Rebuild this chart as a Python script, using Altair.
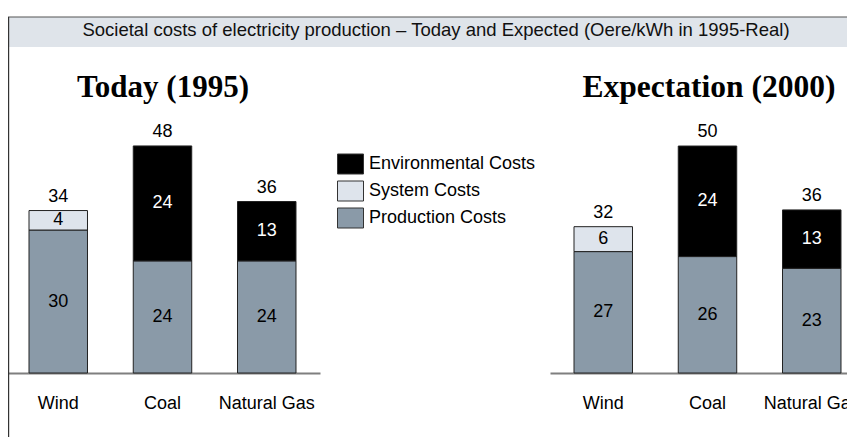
import altair as alt
import pandas as pd

# ---------------- data ----------------
categories = ["Wind", "Coal", "Natural Gas"]
cost_types = ["Environmental Costs", "System Costs", "Production Costs"]
cost_colors = ["#000000", "#dee4ec", "#8a9aa8"]

# Today (1995) – bar heights, labels as printed
today_production = [30.1, 23.6, 23.6]
today_system = [4.1, 0.0, 0.0]
today_environment = [0.0, 24.2, 12.5]
today_production_labels = ["30", "24", "24"]
today_system_labels = ["4", "", ""]
today_environment_labels = ["", "24", "13"]
today_total_labels = ["34", "48", "36"]

# Expectation (2000)
exp_production = [26.8, 25.7, 23.1]
exp_system = [5.5, 0.0, 0.0]
exp_environment = [0.0, 24.4, 12.9]
exp_production_labels = ["27", "26", "23"]
exp_system_labels = ["6", "", ""]
exp_environment_labels = ["", "24", "13"]
exp_total_labels = ["32", "50", "36"]

main_title = "Societal costs of electricity production \u2013 Today and Expected (Oere/kWh in 1995-Real)"
panel_titles = ["Today (1995)", "Expectation (2000)"]

# ---------------- layout ----------------
W, H = 839, 365
FONT = "Liberation Sans"
SERIF = "Liberation Serif"


def build_frames(prod, sysc, env, prod_l, sys_l, env_l, tot_l):
    rows = []
    for i, cat in enumerate(categories):
        for t, vals, lbls, o in [
            ("Production Costs", prod, prod_l, 0),
            ("System Costs", sysc, sys_l, 1),
            ("Environmental Costs", env, env_l, 2),
        ]:
            if vals[i] > 0:
                rows.append(dict(category=cat, type=t, value=vals[i], label=lbls[i], order=o))
    seg = pd.DataFrame(rows)
    tot = pd.DataFrame(
        dict(
            category=categories,
            top=[p + s + e for p, s, e in zip(prod, sysc, env)],
            label=tot_l,
        )
    )
    return seg, tot


def panel(seg, tot, xrange, ymax, show_legend):
    xenc = alt.X(
        "category:N",
        sort=categories,
        scale=alt.Scale(domain=categories, range=xrange, paddingInner=0.439, paddingOuter=0.2303),
        axis=alt.Axis(
            title=None,
            orient="bottom",
            labelAngle=0,
            ticks=False,
            tickSize=0,
            domainColor="#7f7f7f",
            domainWidth=2,
            labelFont=FONT,
            labelFontSize=18,
            labelColor="#000000",
            labelPadding=21,
            labelLimit=0,
        ),
    )
    yscale = alt.Scale(domain=[0, ymax], nice=False, zero=True)
    if show_legend:
        legend = alt.Legend(
            title=None,
            orient="none",
            legendX=332,
            legendY=145.5,
            symbolType="M-1.3,-1H1.3V1H-1.3Z",
            symbolSize=400,
            symbolStrokeColor="#333333",
            symbolStrokeWidth=1,
            symbolOpacity=1,
            labelFont=FONT,
            labelFontSize=18,
            labelColor="#000000",
            labelOffset=8,
            labelLimit=0,
            rowPadding=2,
            padding=0,
        )
    else:
        legend = None

    bars = (
        alt.Chart(seg)
        .mark_bar(stroke="#222222", strokeWidth=1, opacity=1)
        .encode(
            x=xenc,
            y=alt.Y("value:Q", stack="zero", scale=yscale, axis=None),
            color=alt.Color(
                "type:N",
                scale=alt.Scale(domain=cost_types, range=cost_colors),
                legend=legend,
            ),
            order=alt.Order("order:Q", sort="ascending"),
        )
    )
    seg_text = (
        alt.Chart(seg)
        .transform_stack(
            stack="value",
            groupby=["category"],
            sort=[alt.SortField("order", order="ascending")],
            as_=["y0", "y1"],
        )
        .transform_calculate(mid="(datum.y0 + datum.y1) / 2")
        .mark_text(font=FONT, fontSize=18, baseline="middle", align="center")
        .encode(
            x=xenc,
            y=alt.Y("mid:Q", scale=yscale, axis=None),
            text="label:N",
            color=alt.when(alt.datum.type == "Environmental Costs")
            .then(alt.value("#ffffff"))
            .otherwise(alt.value("#000000")),
        )
    )
    tot_text = (
        alt.Chart(tot)
        .mark_text(font=FONT, fontSize=18, baseline="middle", align="center", dy=-14, color="#000000")
        .encode(
            x=xenc,
            y=alt.Y("top:Q", scale=yscale, axis=None),
            text="label:N",
        )
    )
    return alt.layer(bars, seg_text, tot_text)


seg_today, tot_today = build_frames(
    today_production, today_system, today_environment,
    today_production_labels, today_system_labels, today_environment_labels, today_total_labels,
)
seg_exp, tot_exp = build_frames(
    exp_production, exp_system, exp_environment,
    exp_production_labels, exp_system_labels, exp_environment_labels, exp_total_labels,
)

left = panel(seg_today, tot_today, [-3, 312], 76.84, True)
right = panel(seg_exp, tot_exp, [542, 857], 80.57, False)

# decorations: title bar, frame lines, titles
deco_df = pd.DataFrame({"a": [0]})
title_bar = alt.Chart(deco_df).mark_rect(fill="#dfe4ea").encode(
    x=alt.value(0), x2=alt.value(W), y=alt.value(9), y2=alt.value(39)
)
top_line = alt.Chart(deco_df).mark_rule(color="#555555", strokeWidth=1.2).encode(
    x=alt.value(0), x2=alt.value(W), y=alt.value(9)
)
left_line = alt.Chart(deco_df).mark_rule(color="#333333", strokeWidth=1.2).encode(
    x=alt.value(0.6), y=alt.value(9), y2=alt.value(H + 64)
)
title_text = alt.Chart(deco_df).mark_text(
    text=main_title, font=FONT, fontSize=18.5, color="#111111", align="center", baseline="middle"
).encode(x=alt.value(428), y=alt.value(22))
ptitle_left = alt.Chart(deco_df).mark_text(
    text=panel_titles[0], font=SERIF, fontSize=31, fontWeight="bold", color="#000000",
    align="center", baseline="middle",
).encode(x=alt.value(155), y=alt.value(80))
ptitle_right = alt.Chart(deco_df).mark_text(
    text=panel_titles[1], font=SERIF, fontSize=31.5, fontWeight="bold", color="#000000",
    align="center", baseline="middle",
).encode(x=alt.value(701), y=alt.value(80))

chart = (
    alt.layer(title_bar, top_line, left_line, title_text, ptitle_left, ptitle_right, left, right)
    .resolve_scale(x="independent", y="independent")
    .resolve_axis(x="independent", y="independent")
    .properties(
        width=W,
        height=H,
        autosize=alt.AutoSizeParams(type="none"),
        padding={"left": 0, "right": 0, "top": 0, "bottom": 64},
        background="#ffffff",
    )
    .configure_view(stroke=None)
)

chart.save("out.html", embed_options={"renderer": "svg", "actions": False})
